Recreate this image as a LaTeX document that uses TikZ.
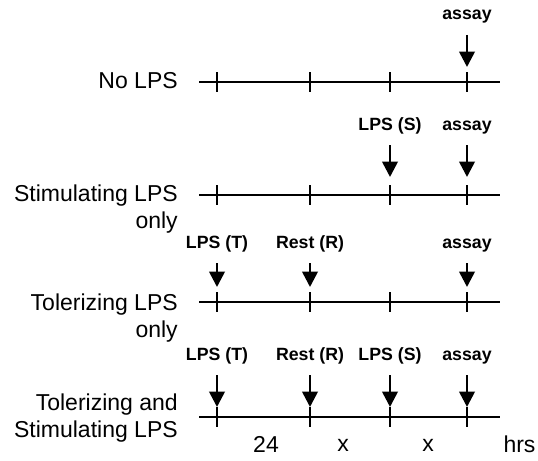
\documentclass[tikz,border=0pt]{standalone}
\usepackage{fontspec}
\setmainfont{Liberation Sans}
\usetikzlibrary{arrows.meta}

\begin{document}
\begin{tikzpicture}[x=0.75pt, y=-0.75pt,
    timeline/.style={line width=2.2pt},
    hourtick/.style={line width=1.8pt},
    dose/.style={-{Triangle[length=11.5pt, width=11.5pt]}, line width=2pt, shorten <=11.6pt},
    grouplabel/.style={anchor=east, inner sep=0pt, align=right, font=\fontsize{17.25}{20.25}\selectfont},
    eventlabel/.style={anchor=base, inner sep=0pt, font=\bfseries\fontsize{13.3}{15}\selectfont},
    hourlabel/.style={inner sep=0pt, font=\fontsize{17.25}{20.25}\selectfont}]
  \useasboundingbox (0,0) rectangle (538,460);

  \foreach \r/\y/\g in {1/82/15, 2/195/18, 3/302/15, 4/417/10} {
    \coordinate (s\r) at (199,\y);
    \coordinate (e\r) at (500,\y);
    \draw[timeline] (s\r) -- (e\r);
    \foreach \t/\x in {1/217, 2/310, 3/390, 4/467} {
      \draw[hourtick] (\x,\y-10) -- (\x,\y+10);
      \coordinate (k\r\t) at (\x,\y-\g);
    }
  }

  \node[grouplabel] (g1) at (178,81) {No LPS};
  \node[grouplabel] (g2) at (178,209) {Stimulating LPS\\only};
  \node[grouplabel] (g3) at (178,318) {Tolerizing LPS\\only};
  \node[grouplabel] (g4) at (178,418) {Tolerizing and\\Stimulating LPS};

  \node[eventlabel] (a1) at (467,19.5) {assay};
  \node[eventlabel] (s2) at (390,130) {LPS (S)};
  \node[eventlabel] (a2) at (467,130) {assay};
  \node[eventlabel] (t3) at (217,248) {LPS (T)};
  \node[eventlabel] (r3) at (310,248) {Rest (R)};
  \node[eventlabel] (a3) at (467,248) {assay};
  \node[eventlabel] (t4) at (217,360) {LPS (T)};
  \node[eventlabel] (r4) at (310,360) {Rest (R)};
  \node[eventlabel] (s4) at (390,360) {LPS (S)};
  \node[eventlabel] (a4) at (467,360) {assay};

  \foreach \n/\k in {a1/k14, s2/k23, a2/k24, t3/k31, r3/k32, a3/k34,
                     t4/k41, r4/k42, s4/k43, a4/k44}
    \draw[dose] (\n.base) -- (\k);

  \node[hourlabel] (h1) at (266,444) {24};
  \node[hourlabel] (h2) at (343,445) {x};
  \node[hourlabel] (h3) at (428,445) {x};
  \node[hourlabel] (h4) at (519.5,444) {hrs};
\end{tikzpicture}
\end{document}
